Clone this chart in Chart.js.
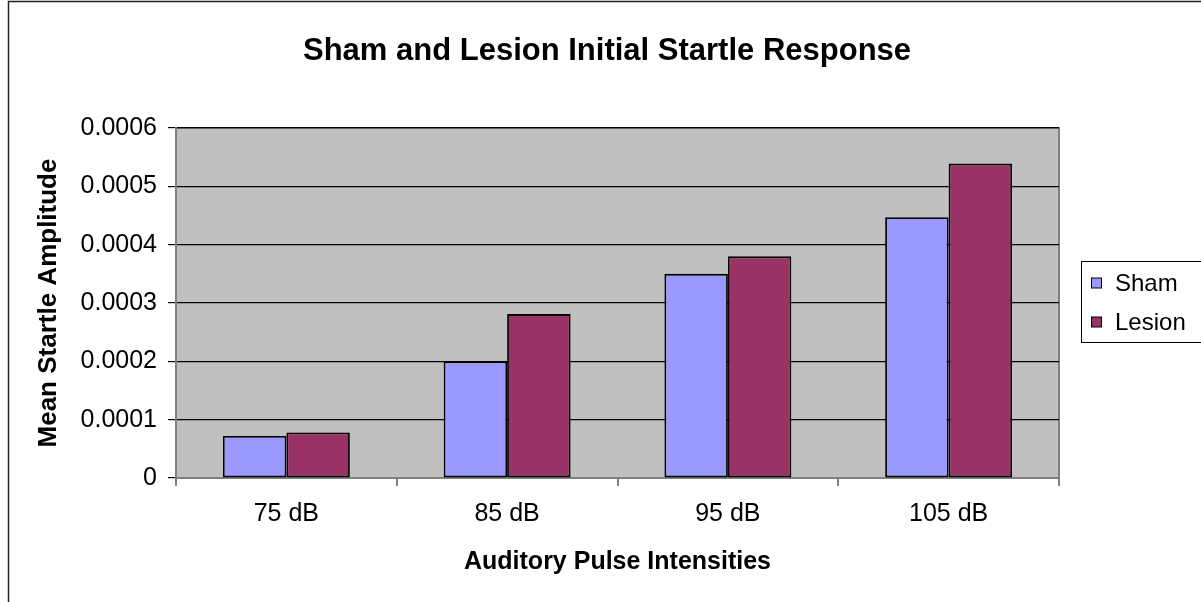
<!DOCTYPE html>
<html>
<head>
<meta charset="utf-8">
<script src="https://cdn.jsdelivr.net/npm/chart.js@4.4.1/dist/chart.umd.min.js"></script>
<style>
  html, body { margin: 0; padding: 0; background: #ffffff; }
  #wrap { position: relative; width: 1201px; height: 602px; }
</style>
</head>
<body>
<div id="wrap"><canvas id="chart" width="1201" height="602"></canvas></div>
<script>
// Pulse intensities on the x axis
const categories = ['75 dB', '85 dB', '95 dB', '105 dB'];
// Mean startle amplitude per group
const shamValues = [0.000072, 0.000200, 0.000350, 0.000447];
const lesionValues = [0.000078, 0.000281, 0.000380, 0.000539];
// Y axis tick values
const yTicks = [0, 0.0001, 0.0002, 0.0003, 0.0004, 0.0005, 0.0006];
const chartTitle = 'Sham and Lesion Initial Startle Response';

const FONT = '"Liberation Sans", Arial, sans-serif';

// Gray plot background, outer frame, title and the boxed legend
const frameAndLegend = {
  id: 'frameAndLegend',
  beforeDraw(chart) {
    const { ctx, chartArea: a } = chart;
    ctx.save();
    ctx.fillStyle = '#c0c0c0';
    ctx.fillRect(a.left, a.top, a.right - a.left, a.bottom - a.top);
    ctx.strokeStyle = '#808080';
    ctx.lineWidth = 2;
    ctx.beginPath();
    ctx.moveTo(a.left, a.top);
    ctx.lineTo(a.right, a.top);
    ctx.lineTo(a.right, a.bottom);
    ctx.stroke();
    // outer chart frame
    ctx.strokeStyle = '#222';
    ctx.lineWidth = 1.5;
    ctx.beginPath();
    ctx.moveTo(8.5, 602);
    ctx.lineTo(8.5, 1.5);
    ctx.lineTo(1201, 1.5);
    ctx.stroke();
    // chart title
    ctx.fillStyle = '#000';
    ctx.font = 'bold 31px ' + FONT;
    ctx.textAlign = 'center';
    ctx.textBaseline = 'middle';
    ctx.fillText(chartTitle, 607, 51);
    ctx.restore();
  },
  afterDraw(chart) {
    const { ctx } = chart;
    const x = 1081.5, y = 261.5, w = 130, h = 81;
    ctx.save();
    ctx.fillStyle = '#ffffff';
    ctx.fillRect(x, y, w, h);
    ctx.strokeStyle = '#000';
    ctx.lineWidth = 1;
    ctx.strokeRect(x, y, w, h);
    ctx.font = '24px ' + FONT;
    ctx.textBaseline = 'middle';
    chart.data.datasets.forEach((ds, i) => {
      const cy = 283 + i * 39;
      ctx.fillStyle = ds.backgroundColor;
      ctx.fillRect(1091.5, cy - 5, 10, 10);
      ctx.strokeStyle = '#000';
      ctx.strokeRect(1091.5, cy - 5, 10, 10);
      ctx.fillStyle = '#000';
      ctx.fillText(ds.label, 1115, cy + 1);
    });
    ctx.restore();
  }
};

new Chart(document.getElementById('chart'), {
  type: 'bar',
  data: {
    labels: categories,
    datasets: [
      { label: 'Sham', data: shamValues, backgroundColor: '#9999ff', borderColor: '#000', borderWidth: 1.8, borderSkipped: false },
      { label: 'Lesion', data: lesionValues, backgroundColor: '#993366', borderColor: '#000', borderWidth: 1.8, borderSkipped: false }
    ]
  },
  options: {
    responsive: false,
    animation: false,
    devicePixelRatio: 1,
    categoryPercentage: 0.575,
    barPercentage: 1,
    layout: { padding: { left: 8, right: 142, top: 128, bottom: 0 } },
    plugins: {
      legend: { display: false },
      tooltip: { enabled: false },
      title: { display: false }
    },
    scales: {
      x: {
        offset: true,
        grid: { display: true, drawOnChartArea: false, offset: true, color: '#808080', tickLength: 8, lineWidth: 2 },
        border: { display: true, color: '#808080', width: 2 },
        ticks: { color: '#000', font: { family: FONT, size: 25 }, padding: 13 },
        title: {
          display: true,
          text: 'Auditory Pulse Intensities',
          color: '#000',
          font: { family: FONT, size: 25, weight: 'bold' },
          padding: { top: 0, bottom: 25 }
        },
        afterFit(scale) { scale.height = 124; }
      },
      y: {
        min: 0,
        max: 0.0006,
        afterBuildTicks(scale) { scale.ticks = yTicks.map(v => ({ value: v })); },
        grid: { color: '#000', lineWidth: 1.2, tickLength: 8, tickColor: '#000' },
        border: { display: true, color: '#808080', width: 2 },
        ticks: {
          color: '#000',
          font: { family: FONT, size: 25 },
          padding: 11,
          callback: v => String(v)
        },
        title: {
          display: true,
          text: 'Mean Startle Amplitude',
          color: '#000',
          font: { family: FONT, size: 26, weight: 'bold' },
          padding: { top: 25, bottom: 0 }
        },
        afterFit(scale) { scale.width = 168; }
      }
    }
  },
  plugins: [frameAndLegend]
});
</script>
</body>
</html>
